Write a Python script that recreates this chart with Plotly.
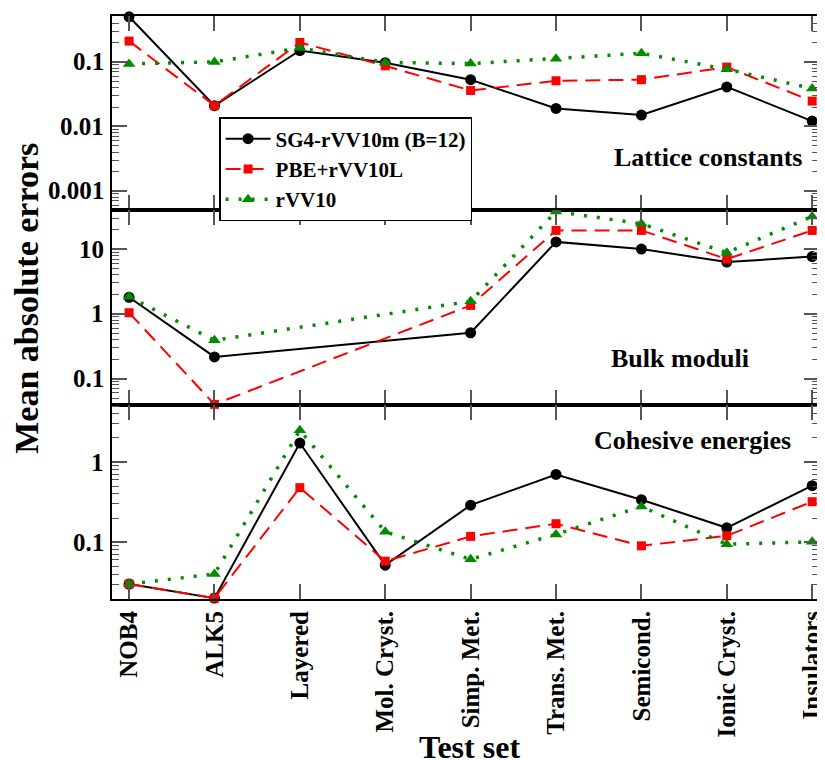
import math
import plotly.graph_objects as go
from plotly.subplots import make_subplots

categories = ["NOB4", "ALK5", "Layered", "Mol. Cryst.", "Simp. Met.",
              "Trans. Met.", "Semicond.", "Ionic Cryst.", "Insulators"]
series_names = ["SG4-rVV10m (B=12)", "PBE+rVV10L", "rVV10"]

# Lattice constants
lat_sg4 = [0.50, 0.021, 0.15, 0.097, 0.053, 0.019, 0.015, 0.041, 0.0121]
lat_pbe = [0.21, 0.021, 0.20, 0.087, 0.036, 0.051, 0.053, 0.083, 0.0247]
lat_rvv = [0.093, 0.100, 0.164, 0.098, 0.094, 0.112, 0.136, 0.077, 0.0387]

# Bulk moduli (no data for Layered / Mol. Cryst.)
bulk_sg4 = [1.80, 0.216, None, None, 0.51, 12.9, 10.0, 6.3, 7.65]
bulk_pbe = [1.04, 0.040, None, None, 1.35, 19.4, 19.4, 7.0, 19.4]
bulk_rvv = [1.83, 0.39, None, None, 1.56, 38.0, 24.6, 8.8, 31.9]

# Cohesive energies
coh_sg4 = [0.030, 0.020, 1.73, 0.0516, 0.29, 0.70, 0.339, 0.151, 0.507]
coh_pbe = [0.030, 0.020, 0.479, 0.0579, 0.118, 0.17, 0.090, 0.12, 0.32]
coh_rvv = [0.030, 0.040, 2.49, 0.135, 0.061, 0.125, 0.279, 0.094, 0.101]

panel_titles = ["Lattice constants", "Bulk moduli", "Cohesive energies"]
yticks = [[0.001, 0.01, 0.1], [0.1, 1, 10], [0.1, 1]]
ytick_text = [["0.001", "0.01", "0.1"], ["0.1", "1", "10"], ["0.1", "1"]]
yranges = [[-3.30, -0.289], [-1.403, 1.598], [-1.71, 0.717]]

FONT = "Liberation Serif"
colors = ["#000000", "#ff0000", "#008b00"]
symbols = ["circle", "square", "triangle-up"]
msizes = [11, 9, 11]
dashes = ["solid", "15px,8px", "3px,10px"]
lwidths = [2, 2, 3.5]

fig = make_subplots(rows=3, cols=1, shared_xaxes=True, vertical_spacing=0)

panels = [
    [lat_sg4, lat_pbe, lat_rvv],
    [bulk_sg4, bulk_pbe, bulk_rvv],
    [coh_sg4, coh_pbe, coh_rvv],
]

for r, data in enumerate(panels, start=1):
    for i, vals in enumerate(data):
        fig.add_trace(go.Scatter(
            x=categories, y=vals, mode="lines+markers",
            name="<b>%s</b>" % series_names[i], showlegend=(r == 1),
            connectgaps=True, cliponaxis=False,
            line=dict(color=colors[i], width=lwidths[i], dash=dashes[i]),
            marker=dict(symbol=symbols[i], size=msizes[i], color=colors[i]),
        ), row=r, col=1)


def minor_vals(lo, hi):
    out = []
    for k in range(int(math.floor(lo)) - 1, int(math.ceil(hi)) + 1):
        for m in range(2, 10):
            v = m * 10.0 ** k
            if lo <= math.log10(v) <= hi:
                out.append(v)
    return out


# page geometry (page has an 8px body margin)
W, H = 817, 752
L, R, T, B = 104, 0, 8, 161
OFF = 8
pw, ph = W - L - R, H - T - B
x0, ybot = OFF + L, OFF + H - B


def px(xp):
    return (xp - x0) / pw


def py(yp):
    return (ybot - yp) / ph


xtickfont = dict(family=FONT, size=25, color="black")
for r in range(1, 4):
    lo, hi = yranges[r - 1]
    fig.update_yaxes(
        type="log", range=[lo, hi], row=r, col=1,
        tickmode="array", tickvals=yticks[r - 1], showticklabels=False,
        ticks="inside", ticklen=15, tickwidth=1.5, tickcolor="#555555",
        showline=True, linecolor="black", linewidth=2, mirror="ticks",
        showgrid=False, zeroline=False,
        minor=dict(ticks="inside", ticklen=7, tickwidth=1, tickcolor="#555555",
                   tickvals=minor_vals(lo, hi), showgrid=False),
    )
    fig.update_xaxes(
        range=[-0.2, 8.08], row=r, col=1,
        tickmode="array", tickvals=categories,
        ticktext=["<b>%s</b>" % c for c in categories],
        ticks="inside", ticklen=15, tickwidth=1.5, tickcolor="#555555",
        showline=True, linecolor="black", linewidth=2, mirror="ticks",
        showgrid=False, zeroline=False, tickangle=-90, tickfont=xtickfont,
        showticklabels=(r == 3),
    )
    # y tick labels (bold) placed at the tick values of each panel
    yref = "y" if r == 1 else "y%d" % r
    for v, t in zip(yticks[r - 1], ytick_text[r - 1]):
        fig.add_annotation(
            x=px(106), xref="paper", y=math.log10(v), yref=yref,
            text="<b>%s</b>" % t, showarrow=False,
            xanchor="right", yanchor="middle",
            font=dict(family=FONT, size=25, color="black"),
        )

label_pos = [(713, 157), (685, 358), (697, 441)]
for (lx, ly), txt in zip(label_pos, panel_titles):
    fig.add_annotation(
        x=px(lx), y=py(ly), xref="paper", yref="paper",
        text="<b>%s</b>" % txt, showarrow=False, xanchor="center", yanchor="middle",
        font=dict(family=FONT, size=26, color="black"),
    )

fig.add_annotation(
    x=px(25), y=py(298), xref="paper", yref="paper",
    text="<b>Mean absolute errors</b>", textangle=-90, showarrow=False,
    xanchor="center", yanchor="middle",
    font=dict(family=FONT, size=34, color="black"),
)
fig.add_annotation(
    x=px(473), y=py(727), xref="paper", yref="paper",
    text="<b>Test set</b>", showarrow=False, xanchor="center", yanchor="top",
    font=dict(family=FONT, size=32, color="black"),
)

fig.update_layout(
    width=W, height=H,
    margin=dict(l=L, r=R, t=T, b=B, pad=0),
    plot_bgcolor="white", paper_bgcolor="white",
    legend=dict(
        x=px(220), y=py(117), xanchor="left", yanchor="top",
        bgcolor="white", bordercolor="black", borderwidth=1.5,
        font=dict(family=FONT, size=21, color="black"),
        itemwidth=45, tracegroupgap=0,
    ),
)

fig.write_html("out.html")
